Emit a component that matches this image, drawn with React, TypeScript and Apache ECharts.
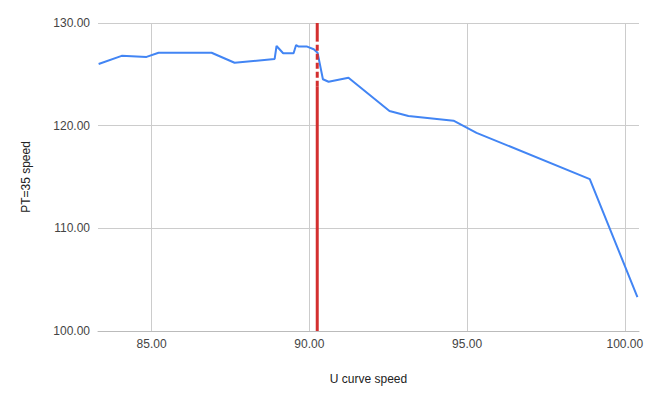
import React, { useEffect, useRef } from "react";
import * as echarts from "echarts";

const uSpeed = [83.32, 84.05, 84.84, 85.22, 86.9, 87.63, 88.9, 88.96, 89.17, 89.5, 89.58, 89.66, 89.93, 90.14, 90.26, 90.43, 90.61, 91.24, 92.54, 93.14, 94.57, 95.3, 98.89, 100.4];
const ptSpeed = [126.0, 126.8, 126.7, 127.1, 127.1, 126.13, 126.5, 127.76, 127.05, 127.05, 127.86, 127.7, 127.7, 127.44, 127.1, 124.52, 124.28, 124.67, 121.43, 120.94, 120.49, 119.3, 114.8, 103.3];
const xTicks = [85, 90, 95, 100];
const refSpeed = 90.25;
const refSolidLow = [100, 123.8];
const refDashed = [123.8, 128.2];
const refSolidHigh = [128.2, 130];

export default function App() {
  const ref = useRef<HTMLDivElement>(null);
  useEffect(() => {
    const chart = echarts.init(ref.current!, null, { renderer: "svg" });
    const font = "'Liberation Sans', Arial, sans-serif";
    const redSeg = (vals: number[], dashed: boolean) => ({
      type: "line",
      data: vals.map((v) => [refSpeed, v]),
      showSymbol: false,
      silent: true,
      z: 5,
      lineStyle: { color: "#d32f2f", width: 3, type: dashed ? [6, 3] : "solid" },
    });
    chart.setOption({
      animation: false,
      textStyle: { fontFamily: font },
      grid: { left: 98, right: 20, top: 23, bottom: 73 },
      xAxis: {
        type: "value",
        min: 83.3,
        max: 100.45,
        name: "U curve speed",
        nameLocation: "middle",
        nameGap: 42,
        nameTextStyle: { color: "#222", fontSize: 12, fontFamily: font },
        axisLine: { show: true, lineStyle: { color: "#bbb", width: 1 } },
        axisTick: { show: false, customValues: xTicks },
        axisLabel: {
          customValues: xTicks,
          color: "#444",
          fontSize: 12,
          margin: 7,
          fontFamily: font,
          formatter: (v: number) => v.toFixed(2),
        },
        splitLine: { show: true, lineStyle: { color: "#ccc", width: 1 } },
      },
      yAxis: {
        type: "value",
        min: 100,
        max: 130,
        interval: 10,
        name: "PT=35 speed",
        nameLocation: "middle",
        nameGap: 66,
        nameRotate: 90,
        nameTextStyle: { color: "#222", fontSize: 12, fontFamily: font },
        axisLine: { show: false },
        axisTick: { show: false },
        axisLabel: {
          color: "#444",
          fontSize: 12,
          margin: 8,
          fontFamily: font,
          formatter: (v: number) => v.toFixed(2),
        },
        splitLine: { show: true, lineStyle: { color: "#ccc", width: 1 } },
      },
      series: [
        {
          type: "line",
          data: uSpeed.map((x, i) => [x, ptSpeed[i]]),
          showSymbol: false,
          z: 3,
          lineStyle: { color: "#4285f4", width: 2 },
        },
        redSeg(refSolidLow, false),
        redSeg(refDashed, true),
        redSeg(refSolidHigh, false),
      ],
    });
    return () => chart.dispose();
  }, []);
  return (
    <div
      ref={ref}
      style={{ position: "absolute", left: 0, top: 0, width: 659, height: 404, background: "#fff" }}
    />
  );
}
